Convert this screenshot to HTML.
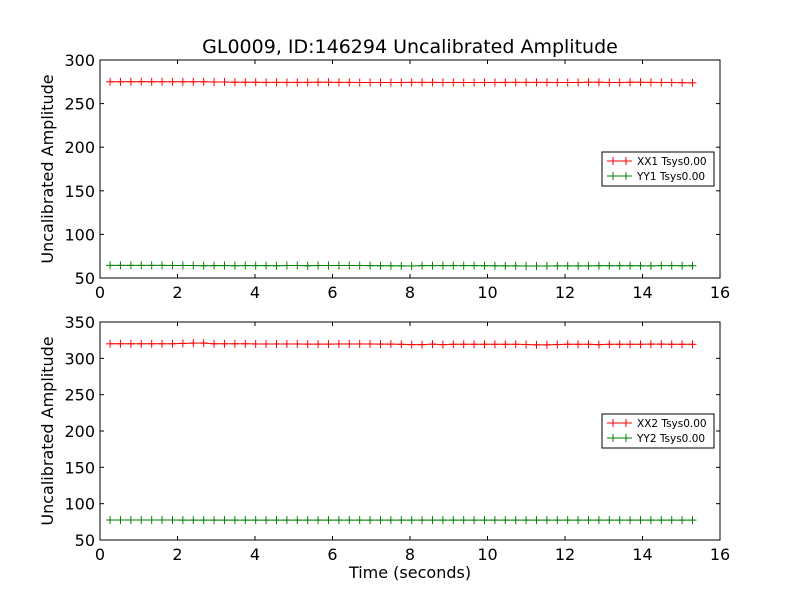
<!DOCTYPE html>
<html><head><meta charset="utf-8"><style>
body{margin:0;background:#fff;}
svg{display:block;font-family:"DejaVu Sans","Liberation Sans",sans-serif;}
</style></head><body>
<svg id="c" width="800" height="600"></svg>
<script>
const nPts = 57;
const t0 = 0.26, dt = 0.2684;
const xx1 = [275,275,275,275.2,275,275,275,275,275,275,274.8,274.8,274.5,274.5,274.5,274.3,274.3,274.3,274.3,274.3,274.5,274.5,274.3,274.3,274.2,274.2,274.2,274.2,274.2,274.3,274.3,274.3,274.2,274.2,274.2,274.2,274.2,274.2,274.3,274.3,274.3,274.3,274.3,274.2,274.2,274.2,274.5,274.5,274.2,274.2,274.5,274.5,274.3,274.2,274.2,274,273.8];
const yy1 = [64.5,64.5,64.5,64.5,64.5,64.5,64.4,64.4,64.3,64.1,64.2,64.3,64.1,64.3,64.2,64.2,64,64.3,64.3,64,64.3,64.3,64.3,64.3,64.3,64.2,64,64,63.9,63.8,64.2,64.2,64.2,64.2,64.2,64.2,64,64,63.9,63.9,63.8,63.8,63.8,63.9,63.9,63.9,63.9,64.1,64.1,64.1,64.1,64,63.9,64.2,64.2,64,64];
const xx2 = [320,320,320,320,320,320,320,320.5,321,321,320,320,320,320,319.8,319.8,319.8,319.8,319.8,319.6,319.6,319.6,319.8,319.8,319.8,319.8,319.6,319.6,319.3,318.8,318.8,319.5,318.8,319.3,319.3,319.3,319.3,319.3,319.3,319.3,319,318.6,318.6,319,319.3,319.3,319.3,318.8,319.3,319.3,319.3,319.3,319.5,319.5,319.3,319.3,319.3];
const yy2 = [77.5,77.5,77.5,77.5,77.5,77.5,77.5,77.4,77.4,77.4,77.4,77.4,77.4,77.4,77.4,77.4,77.4,77.4,77.4,77.4,77.4,77.4,77.4,77.4,77.4,77.4,77.4,77.4,77.4,77.4,77.4,77.4,77.4,77.4,77.4,77.4,77.4,77.4,77.4,77.4,77.4,77.4,77.4,77.4,77.4,77.4,77.4,77.4,77.4,77.4,77.4,77.4,77.4,77.4,77.4,77.4,77.4];
const xTicks = [0,2,4,6,8,10,12,14,16];
const yTicksTop = [50,100,150,200,250,300];
const yTicksBot = [50,100,150,200,250,300,350];

const svg = document.getElementById('c');
const NS = 'http://www.w3.org/2000/svg';
function mk(tag, attrs, parent){const e=document.createElementNS(NS,tag);for(const k in attrs)e.setAttribute(k,attrs[k]);(parent||svg).appendChild(e);return e;}
const times = xx1.map((_, i) => t0 + i*dt);

function panel(top, bot, ymin, ymax, yTicks, s1, s2, l1, l2, tag){
  const L=100,R=720;
  const xs=v=>L+(v-0)/(16-0)*(R-L);
  const ys=v=>bot-(v-ymin)/(ymax-ymin)*(bot-top);
  const g=mk('g',{});
  
  
  xTicks.forEach(v=>{
    const x=xs(v);
    mk('line',{x1:x,x2:x,y1:bot,y2:bot-4,stroke:'#000'},g);
    mk('line',{x1:x,x2:x,y1:top,y2:top+4,stroke:'#000'},g);
    const t=mk('text',{x:x,y:bot+20,'text-anchor':'middle','font-size':16},g);t.textContent=v;
    
    
  });
  yTicks.forEach(v=>{
    const y=ys(v);
    mk('line',{x1:L,x2:L+4,y1:y,y2:y,stroke:'#000'},g);
    mk('line',{x1:R,x2:R-4,y1:y,y2:y,stroke:'#000'},g);
    const t=mk('text',{x:L-5,y:y+6,'text-anchor':'end','font-size':16},g);t.textContent=v;
    
    
  });
  [[s1,'#ff0000','series-'+l1.split(' ')[0]],[s2,'#008000','series-'+l2.split(' ')[0]]].forEach(([s,c,n])=>{
    const sg=mk('g',{},g);
    
    
    mk('polyline',{points:s.map((v,i)=>xs(times[i])+','+ys(v)).join(' '),fill:'none',stroke:c,'stroke-width':1},sg);
    s.forEach((v,i)=>{const x=xs(times[i]),y=ys(v);
      mk('line',{x1:x,x2:x,y1:y-4,y2:y+4,stroke:c},sg);
      mk('line',{x1:x-4,x2:x+4,y1:y,y2:y,stroke:c},sg);});
  });
  mk('rect',{x:L,y:top,width:R-L,height:bot-top,fill:'none',stroke:'#000','stroke-width':1},g);
  const yl=mk('text',{x:0,y:0,'text-anchor':'middle','font-size':16,transform:`translate(53,${(top+bot)/2}) rotate(-90)`},g);
  yl.textContent='Uncalibrated Amplitude';
  
  
  const lt=(top+bot)/2-17;
  const lg=mk('g',{},g);
  
  
  mk('rect',{x:602,y:lt,width:112,height:34,fill:'#fff',stroke:'#000'},lg);
  [[l1,'#ff0000'],[l2,'#008000']].forEach(([l,c],k)=>{
    const y=lt+9+k*15;
    mk('line',{x1:607,x2:632,y1:y,y2:y,stroke:c},lg);
    mk('line',{x1:613,x2:613,y1:y-4,y2:y+4,stroke:c},lg);
    mk('line',{x1:626,x2:626,y1:y-4,y2:y+4,stroke:c},lg);
    const t=mk('text',{x:637,y:y+4,'font-size':10.5},lg);t.textContent=l;
    
    
  });
}
panel(60,278,50,300,yTicksTop,xx1,yy1,'XX1 Tsys0.00','YY1 Tsys0.00','top');
panel(322,540,50,350,yTicksBot,xx2,yy2,'XX2 Tsys0.00','YY2 Tsys0.00','bottom');
const title=mk('text',{x:410,y:53,'text-anchor':'middle','font-size':19});
title.textContent='GL0009, ID:146294 Uncalibrated Amplitude';


const xl=mk('text',{x:410,y:578,'text-anchor':'middle','font-size':16});
xl.textContent='Time (seconds)';


</script>
</body></html>
